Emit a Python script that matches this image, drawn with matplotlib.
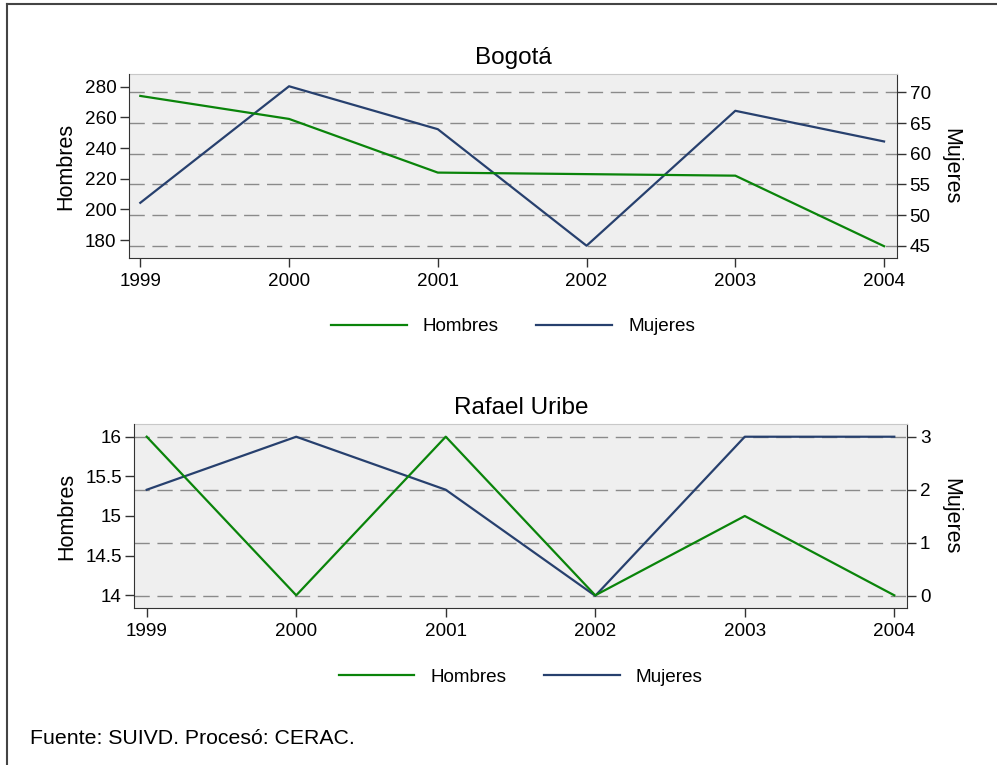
import matplotlib
matplotlib.use("Agg")
import matplotlib.pyplot as plt
from matplotlib.lines import Line2D

plt.rcParams['font.family'] = ['Liberation Sans', 'DejaVu Sans']

years = [1999, 2000, 2001, 2002, 2003, 2004]

# Bogota
bog_hombres = [274, 259, 224, 223, 222, 176]
bog_mujeres = [52, 71, 64, 45, 67, 62]
bog_left_ticks = [180, 200, 220, 240, 260, 280]
bog_right_ticks = [45, 50, 55, 60, 65, 70]

# Rafael Uribe
ru_hombres = [16, 14, 16, 14, 15, 14]
ru_mujeres = [2, 3, 2, 0, 3, 3]
ru_left_ticks = [14, 14.5, 15, 15.5, 16]
ru_left_labels = ['14', '14.5', '15', '15.5', '16']
ru_right_ticks = [0, 1, 2, 3]

GREEN = '#0a840a'
NAVY = '#27406e'
BG = '#efefef'
SPINE = '#333333'

W, H = 997, 765
fig = plt.figure(figsize=(W / 100, H / 100), dpi=100)


def panel(box, title, hombres, mujeres, lticks, llabels, rticks, ylim_l, ylim_r, xlim, legend_y):
    x0, y0, x1, y1 = box
    rect = [x0 / W, 1 - y1 / H, (x1 - x0) / W, (y1 - y0) / H]
    ax = fig.add_axes(rect)
    ax2 = ax.twinx()
    # left axis on top so Hombres draws over the grid
    ax.set_zorder(ax2.get_zorder() + 1)
    ax.patch.set_visible(False)
    ax2.patch.set_visible(True)
    ax2.patch.set_facecolor(BG)

    l1, = ax.plot(years, hombres, color=GREEN, lw=1.6, label='Hombres')
    l2, = ax2.plot(years, mujeres, color=NAVY, lw=1.6, label='Mujeres')

    ax.set_xlim(*xlim)
    ax.set_ylim(*ylim_l)
    ax2.set_ylim(*ylim_r)
    ax.set_xticks(years)
    ax.set_xticklabels([str(y) for y in years])
    ax.set_yticks(lticks)
    ax.set_yticklabels(llabels)
    ax2.set_yticks(rticks)
    ax2.yaxis.grid(True, color='#8a8a8a', lw=1.0, linestyle=(0, (11, 5.5)))

    for a in (ax, ax2):
        a.tick_params(labelsize=13.6, length=6.5, width=1.0, color=SPINE, pad=2.5)
    ax.tick_params(axis='x', pad=4)

    ax.spines['top'].set_visible(False)
    ax.spines['right'].set_visible(False)
    ax.spines['left'].set_color(SPINE)
    ax.spines['bottom'].set_color(SPINE)
    ax2.spines['left'].set_visible(False)
    ax2.spines['bottom'].set_visible(False)
    ax2.spines['top'].set_color('#c8c8c8')
    ax2.spines['right'].set_color(SPINE)

    ax.set_ylabel('Hombres', fontsize=15.5, labelpad=6)
    ax2.set_ylabel('Mujeres', fontsize=15.5, rotation=270, labelpad=22)
    ax.set_title(title, fontsize=17.5, pad=7)

    fig.legend([l1, l2], ['Hombres', 'Mujeres'], loc='center',
               bbox_to_anchor=((x0 + x1) / 2 / W, 1 - legend_y / H),
               ncol=2, frameon=False, fontsize=13.6, handlelength=4.0,
               handletextpad=0.85, columnspacing=2.0)


panel((129, 74, 897, 258), 'Bogotá', bog_hombres, bog_mujeres,
      bog_left_ticks, [str(t) for t in bog_left_ticks], bog_right_ticks,
      (168.3, 288.3), (43.0, 73.0), (1998.924, 2004.087), 326.5)

panel((134.3, 424, 907.3, 608), 'Rafael Uribe', ru_hombres, ru_mujeres,
      ru_left_ticks, ru_left_labels, ru_right_ticks,
      (13.84, 16.16), (-0.23, 3.24), (1998.917, 2004.087), 677)

fig.text(30 / W, 1 - 738 / H, 'Fuente: SUIVD. Procesó: CERAC.', fontsize=15.3, va='center', ha='left')

# outer frame (top and left edges)
fig.add_artist(Line2D([6.5 / W, 6.5 / W], [0, 1 - 4 / H], color='#444444', lw=1.5))
fig.add_artist(Line2D([6.5 / W, 1], [1 - 4 / H, 1 - 4 / H], color='#444444', lw=1.5))

fig.savefig('out.png', dpi=100, facecolor='white')
